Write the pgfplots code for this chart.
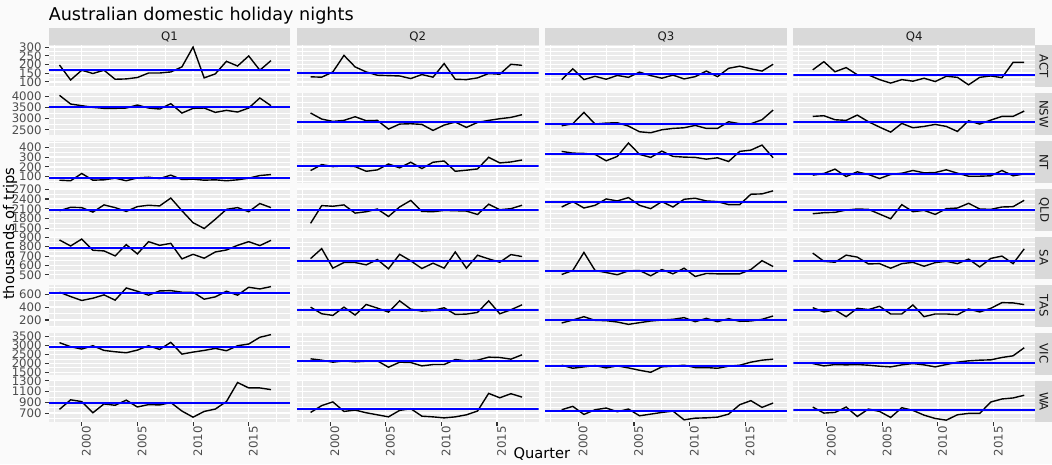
\documentclass[border=0pt]{standalone}
\usepackage{fontspec}
\setmainfont{DejaVu Sans}
\usepackage{pgfplots}
\usepackage{pgfplotstable}
\pgfplotsset{compat=1.18}

\definecolor{pagebg}{HTML}{FAFAFA}
\definecolor{panelbg}{HTML}{EBEBEB}
\definecolor{stripbg}{HTML}{D9D9D9}
\definecolor{ticklab}{HTML}{4D4D4D}
\definecolor{tickcol}{HTML}{333333}
\definecolor{striptext}{HTML}{1A1A1A}
\definecolor{meanblue}{HTML}{0000FF}

% Holiday nights (thousands of trips) by state, one column per quarter
\pgfplotstableread{
yr q1 q2 q3 q4
1998 197 129 113 169
1999 111 127 175 216
2000 167 157 113 158
2001 148 252 132 182
2002 167 186 115 141
2003 115 157 137 140
2004 117 138 126 113
2005 125 136 156 93
2006 151 134 136 113
2007 151 119 121 104
2008 157 142 139 121
2009 186 127 117 102
2010 300 205 130 132
2011 123 115 162 126
2012 146 113 130 83
2013 218 123 178 126
2014 191 148 190 134
2015 249 144 175 124
2016 167 201 162 212
2017 222 195 201 212
}\tabACT
\pgfplotstableread{
yr q1 q2 q3 q4
1998 4045 3250 2680 3100
1999 3655 2980 2770 3130
2000 3580 2875 3280 2950
2001 3505 2920 2755 2920
2002 3460 3085 2800 3160
2003 3460 2905 2815 2860
2004 3475 2920 2665 2620
2005 3610 2530 2410 2395
2006 3475 2755 2365 2785
2007 3430 2770 2500 2590
2008 3670 2740 2560 2650
2009 3250 2470 2590 2740
2010 3460 2710 2695 2650
2011 3475 2845 2560 2425
2012 3280 2605 2560 2905
2013 3370 2830 2860 2755
2014 3295 2920 2770 2935
2015 3475 2995 2770 3100
2016 3925 3055 2950 3100
2017 3580 3175 3385 3340
}\tabNSW
\pgfplotstableread{
yr q1 q2 q3 q4
1998 62 161 359 114
1999 56 223 341 131
2000 131 202 338 176
2001 62 209 328 100
2002 66 202 262 148
2003 83 154 307 121
2004 56 168 445 79
2005 86 229 328 121
2006 93 189 297 134
2007 79 247 362 162
2008 114 182 307 138
2009 69 247 300 141
2010 73 260 297 169
2011 62 154 279 134
2012 66 165 293 103
2013 56 178 255 103
2014 66 298 359 107
2015 83 240 372 162
2016 110 250 424 107
2017 120 270 293 127
}\tabNT
\pgfplotstableread{
yr q1 q2 q3 q4
1998 2043 1657 2156 1951
1999 2147 2199 2320 1982
2000 2137 2179 2125 1992
2001 2001 2220 2207 2064
2002 2220 1970 2402 2095
2003 2137 2012 2341 2084
2004 2022 2095 2443 1941
2005 2168 1866 2207 1797
2006 2210 2158 2105 2228
2007 2189 2356 2320 2013
2008 2429 2022 2156 2054
2009 2043 2012 2392 1930
2010 1678 2053 2423 2105
2011 1500 2043 2341 2125
2012 1782 2032 2320 2269
2013 2085 1928 2228 2095
2014 2137 2241 2228 2084
2015 2012 2074 2546 2156
2016 2262 2105 2556 2166
2017 2137 2210 2649 2361
}\tabQLD
\pgfplotstableread{
yr q1 q2 q3 q4
1998 872 673 503 732
1999 808 780 546 644
2000 882 571 739 634
2001 762 631 546 710
2002 755 631 524 689
2003 702 606 500 616
2004 822 663 542 619
2005 723 564 546 570
2006 854 719 489 619
2007 815 649 556 633
2008 836 567 510 591
2009 670 624 570 630
2010 719 571 482 644
2011 677 744 514 619
2012 744 571 510 668
2013 765 709 510 584
2014 815 670 510 675
2015 854 634 556 700
2016 812 716 651 619
2017 868 695 588 777
}\tabSA
\pgfplotstableread{
yr q1 q2 q3 q4
1998 631 400 154 392
1999 564 297 200 325
2000 503 272 252 356
2001 538 400 195 252
2002 590 277 190 382
2003 508 441 169 361
2004 697 385 133 413
2005 646 323 159 294
2006 585 497 185 294
2007 651 369 200 434
2008 656 338 211 252
2009 631 349 237 294
2010 631 390 174 294
2011 523 287 226 283
2012 559 292 174 372
2013 646 318 221 325
2014 585 497 180 382
2015 708 297 185 470
2016 682 359 211 465
2017 718 436 263 439
}\tabTAS
\pgfplotstableread{
yr q1 q2 q3 q4
1998 3160 2255 1896 1990
1999 2934 2179 1726 1858
2000 2802 2066 1802 1934
2001 2990 2141 1877 1915
2002 2726 2085 1745 1934
2003 2651 2122 1858 1896
2004 2594 2141 1745 1840
2005 2745 1783 1613 1802
2006 2990 2066 1500 1915
2007 2783 2047 1802 1990
2008 3179 1858 1840 1915
2009 2519 1934 1896 1802
2010 2632 1934 1764 1934
2011 2726 2217 1764 2066
2012 2840 2141 1726 2141
2013 2707 2179 1840 2179
2014 2990 2349 1896 2198
2015 3085 2330 2066 2330
2016 3462 2236 2179 2424
2017 3613 2481 2236 2877
}\tabVIC
\pgfplotstableread{
yr q1 q2 q3 q4
1998 769 712 762 812
1999 946 839 825 700
2000 914 908 675 712
2001 706 731 762 812
2002 870 756 794 637
2003 845 706 725 775
2004 940 668 775 731
2005 813 630 650 619
2006 858 750 681 800
2007 851 782 712 750
2008 896 643 737 662
2009 738 630 575 600
2010 624 611 606 569
2011 731 630 612 669
2012 775 668 625 694
2013 914 738 681 694
2014 1268 1066 856 906
2015 1167 984 931 962
2016 1167 1060 806 981
2017 1136 997 887 1031
}\tabWA

\pgfplotsset{
  panel/.style={
    scale only axis, width=181.35pt, height=31.35pt, anchor=north west,
    xmin=1997.0125, xmax=2018.7375,
    axis background/.style={fill=panelbg},
    axis line style={draw=none},
    grid=both,
    major grid style={draw=white, line width=1.07pt},
    minor grid style={draw=white, line width=0.53pt},
    xtick={2000,2005,2010,2015},
    minor xtick={1997.5,2002.5,2007.5,2012.5,2017.5},
    xticklabels={2000,2005,2010,2015},
    tick align=outside,
    major tick length=2.75pt,
    minor tick length=0pt,
    tick style={draw=tickcol, line width=0.8pt},
    tick pos=left,
    ticklabel style={font=\fontsize{8.8}{10}\selectfont, text=ticklab},
    yticklabel style={inner xsep=2.2pt, inner ysep=0pt},
    xticklabel style={rotate=90, anchor=north east, inner sep=0pt},
    scaled ticks=false,
    clip=true,
  },
  dataline/.style={black, solid, line width=1.05pt, mark=none},
  meanline/.style={meanblue, solid, line width=1.5pt, mark=none},
  c0/.style={}, c1/.style={ymajorticks=false},
  c2/.style={ymajorticks=false}, c3/.style={ymajorticks=false},
  r0/.style={xmajorticks=false}, r1/.style={xmajorticks=false},
  r2/.style={xmajorticks=false}, r3/.style={xmajorticks=false},
  r4/.style={xmajorticks=false}, r5/.style={xmajorticks=false},
  r6/.style={xmajorticks=false}, r7/.style={},
  ACT/.style={ymin=70, ymax=310, ytick={100,150,200,250,300},
    minor ytick={75,125,175,225,275}, yticklabels={100,150,200,250,300}},
  NSW/.style={ymin=2265, ymax=4140, ytick={2500,3000,3500,4000},
    minor ytick={2750,3250,3750}, yticklabels={2500,3000,3500,4000}},
  NT/.style={ymin=34, ymax=465, ytick={100,200,300,400},
    minor ytick={50,150,250,350,450}, yticklabels={100,200,300,400}},
  QLD/.style={ymin=1430, ymax=2705, ytick={1500,1800,2100,2400,2700},
    minor ytick={1650,1950,2250,2550}, yticklabels={1500,1800,2100,2400,2700}},
  SA/.style={ymin=458, ymax=905, ytick={500,600,700,800,900},
    minor ytick={550,650,750,850}, yticklabels={500,600,700,800,900}},
  TAS/.style={ymin=98, ymax=746, ytick={200,400,600},
    minor ytick={100,300,500,700}, yticklabels={200,400,600}},
  VIC/.style={ymin=1375, ymax=3720, ytick={1500,2000,2500,3000,3500},
    minor ytick={1750,2250,2750,3250}, yticklabels={1500,2000,2500,3000,3500}},
  WA/.style={ymin=527, ymax=1303, ytick={700,900,1100,1300},
    minor ytick={600,800,1000,1200}, yticklabels={700,900,1100,1300}},
}

% one facet: column, row, state style, table, quarter column, x offset, mean
\newcommand{\panel}[7]{%
  \begin{axis}[panel, #3, c#1, r#2,
      at={(36.375pt+#1*186.225pt,-33.975pt-#2*35.925pt)}]
    \addplot[dataline] table[x expr=\thisrow{yr}+#6, y=#5] {#4};
    \addplot[meanline] coordinates {(1997.0125,#7) (2018.7375,#7)};
  \end{axis}}

\begin{document}
\begin{tikzpicture}
\fill[pagebg] (0pt,0pt) rectangle (789pt,-348pt);
\useasboundingbox (0pt,0pt) rectangle (789pt,-348pt);

\panel{0}{0}{ACT}{\tabACT}{q1}{0}{170.4}
\panel{1}{0}{ACT}{\tabACT}{q2}{0.25}{152.4}
\panel{2}{0}{ACT}{\tabACT}{q3}{0.5}{145.4}
\panel{3}{0}{ACT}{\tabACT}{q4}{0.75}{140.1}

\panel{0}{1}{NSW}{\tabNSW}{q1}{0}{3523.8}
\panel{1}{1}{NSW}{\tabNSW}{q2}{0.25}{2866.8}
\panel{2}{1}{NSW}{\tabNSW}{q3}{0.5}{2737}
\panel{3}{1}{NSW}{\tabNSW}{q4}{0.75}{2855.5}

\panel{0}{2}{NT}{\tabNT}{q1}{0}{79.7}
\panel{1}{2}{NT}{\tabNT}{q2}{0.25}{211.4}
\panel{2}{2}{NT}{\tabNT}{q3}{0.5}{327.3}
\panel{3}{2}{NT}{\tabNT}{q4}{0.75}{128.9}

\panel{0}{3}{QLD}{\tabQLD}{q1}{0}{2067}
\panel{1}{3}{QLD}{\tabQLD}{q2}{0.25}{2071.6}
\panel{2}{3}{QLD}{\tabQLD}{q3}{0.5}{2323.3}
\panel{3}{3}{QLD}{\tabQLD}{q4}{0.75}{2074.6}

\panel{0}{4}{SA}{\tabSA}{q1}{0}{787.8}
\panel{1}{4}{SA}{\tabSA}{q2}{0.25}{649.4}
\panel{2}{4}{SA}{\tabSA}{q3}{0.5}{544.6}
\panel{3}{4}{SA}{\tabSA}{q4}{0.75}{648.7}

\panel{0}{5}{TAS}{\tabTAS}{q1}{0}{612.6}
\panel{1}{5}{TAS}{\tabTAS}{q2}{0.25}{361.2}
\panel{2}{5}{TAS}{\tabTAS}{q3}{0.5}{196}
\panel{3}{5}{TAS}{\tabTAS}{q4}{0.75}{354}

\panel{0}{6}{VIC}{\tabVIC}{q1}{0}{2906.4}
\panel{1}{6}{VIC}{\tabVIC}{q2}{0.25}{2127.2}
\panel{2}{6}{VIC}{\tabVIC}{q3}{0.5}{1838.6}
\panel{3}{6}{VIC}{\tabVIC}{q4}{0.75}{2047}

\panel{0}{7}{WA}{\tabWA}{q1}{0}{896.4}
\panel{1}{7}{WA}{\tabWA}{q2}{0.25}{775.5}
\panel{2}{7}{WA}{\tabWA}{q3}{0.5}{733.9}
\panel{3}{7}{WA}{\tabWA}{q4}{0.75}{755.8}

% facet strips
\foreach \c/\lab in {0/Q1,1/Q2,2/Q3,3/Q4} {
  \fill[stripbg] (36.375pt+\c*186.225pt,-33.975pt) rectangle ++(181.35pt,13.2pt);
  \node[font=\fontsize{8.8}{10}\selectfont, text=striptext]
    at (36.375pt+\c*186.225pt+90.675pt,-27.375pt) {\lab};
}
\foreach \r/\lab in {0/ACT,1/NSW,2/NT,3/QLD,4/SA,5/TAS,6/VIC,7/WA} {
  \fill[stripbg] (776.4pt,-33.975pt-\r*35.925pt) rectangle ++(13.2pt,-31.35pt);
  \node[font=\fontsize{8.8}{10}\selectfont, text=striptext, rotate=-90]
    at (783pt,-33.975pt-\r*35.925pt-15.675pt) {\lab};
}

% titles
\node[anchor=base west, inner sep=0pt, font=\fontsize{13.2}{15}\selectfont]
  at (36.375pt,-15.5pt) {Australian domestic holiday nights};
\node[anchor=base, font=\fontsize{11}{13}\selectfont]
  at (406.4pt,-344pt) {Quarter};
\node[rotate=90, font=\fontsize{11}{13}\selectfont]
  at (7.5pt,-175.3pt) {thousands of trips};
\end{tikzpicture}
\end{document}
